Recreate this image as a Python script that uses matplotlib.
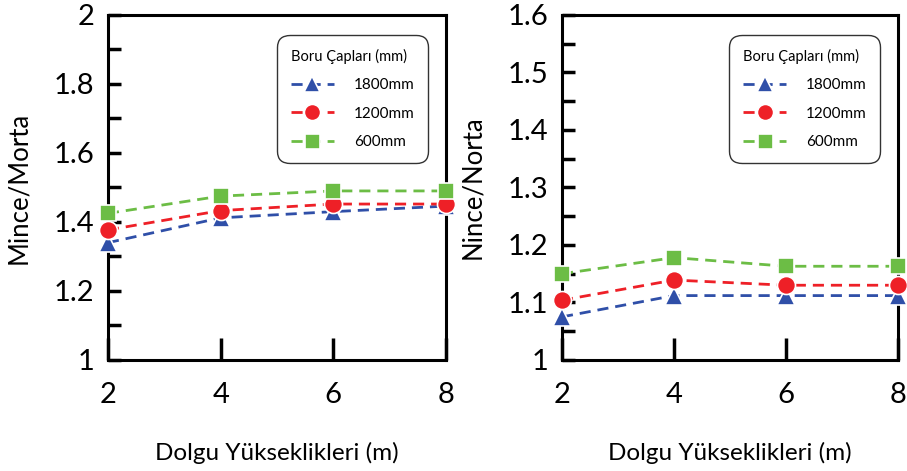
import matplotlib.pyplot as plt
import numpy as np

plt.rcParams['font.family'] = ['Lato', 'DejaVu Sans']

# Dolgu yuksekligi (m)
heights = [2, 4, 6, 8]
series_names = ['1800mm', '1200mm', '600mm']

# Mince/Morta
mince_1800 = [1.34, 1.412, 1.43, 1.446]
mince_1200 = [1.377, 1.433, 1.452, 1.452]
mince_600 = [1.425, 1.475, 1.49, 1.49]

# Nince/Norta
nince_1800 = [1.075, 1.112, 1.112, 1.112]
nince_1200 = [1.104, 1.139, 1.130, 1.130]
nince_600 = [1.150, 1.178, 1.163, 1.163]

colors = ['#2f4fa8', '#ee2027', '#6cbd45']
markers = ['^', 'o', 's']
msizes = [13, 13, 12]

fig = plt.figure(figsize=(9.07, 4.71), dpi=100)
ax1 = fig.add_axes([0.119, 0.2357, 0.3727, 0.7325])
ax2 = fig.add_axes([0.6196, 0.2357, 0.3705, 0.7325])


def draw(ax, data, ylim, major, minor, ylabel, fmt):
    for vals, name, c, m, ms in zip(data, series_names, colors, markers, msizes):
        ax.plot(heights, vals, linestyle=(0, (4, 2.5)), color=c, lw=2,
                marker=m, markersize=ms, markerfacecolor=c,
                markeredgecolor='white', markeredgewidth=1.2,
                label=name, clip_on=False, zorder=3)
    ax.set_xlim(2, 8)
    ax.set_ylim(*ylim)
    ax.set_xticks(heights)
    ax.set_yticks(major)
    ax.set_yticklabels([fmt(v) for v in major])
    ax.set_yticks(minor, minor=True)
    ax.tick_params(axis='both', which='major', direction='in', labelsize=21,
                   width=2.5, color='black')
    ax.tick_params(axis='y', which='both', direction='in', length=9, width=2.5)
    ax.tick_params(axis='x', length=16, pad=16)
    ax.tick_params(axis='y', pad=10)
    for s in ax.spines.values():
        s.set_linewidth(2.2)
    ax.set_xlabel('Dolgu Yükseklikleri (m)', fontsize=17.5, labelpad=24)
    ax.set_ylabel(ylabel, fontsize=18.5, labelpad=16)
    leg = ax.legend(title='Boru Çapları (mm)', loc='upper right',
                    fontsize=11, title_fontsize=10.5, frameon=True,
                    fancybox=True, edgecolor='black', handlelength=2.8,
                    markerscale=0.9, labelspacing=0.95, borderpad=0.9,
                    handletextpad=1.3, bbox_to_anchor=(0.97, 0.965))
    leg.get_frame().set_linewidth(1.0)
    leg.get_frame().set_boxstyle('round', pad=0, rounding_size=0.8)
    leg._legend_box.align = 'left'


def fmt_num(v):
    return ('%.1f' % v).rstrip('0').rstrip('.') if v != 1 else '1'


draw(ax1, [mince_1800, mince_1200, mince_600], (1, 2),
     np.arange(1, 2.01, 0.2), np.arange(1, 2.01, 0.1), 'Mince/Morta', fmt_num)
draw(ax2, [nince_1800, nince_1200, nince_600], (1, 1.6),
     np.arange(1, 1.61, 0.1), np.arange(1, 1.61, 0.05), 'Nince/Norta', fmt_num)

fig.savefig('out.png', dpi=100)
